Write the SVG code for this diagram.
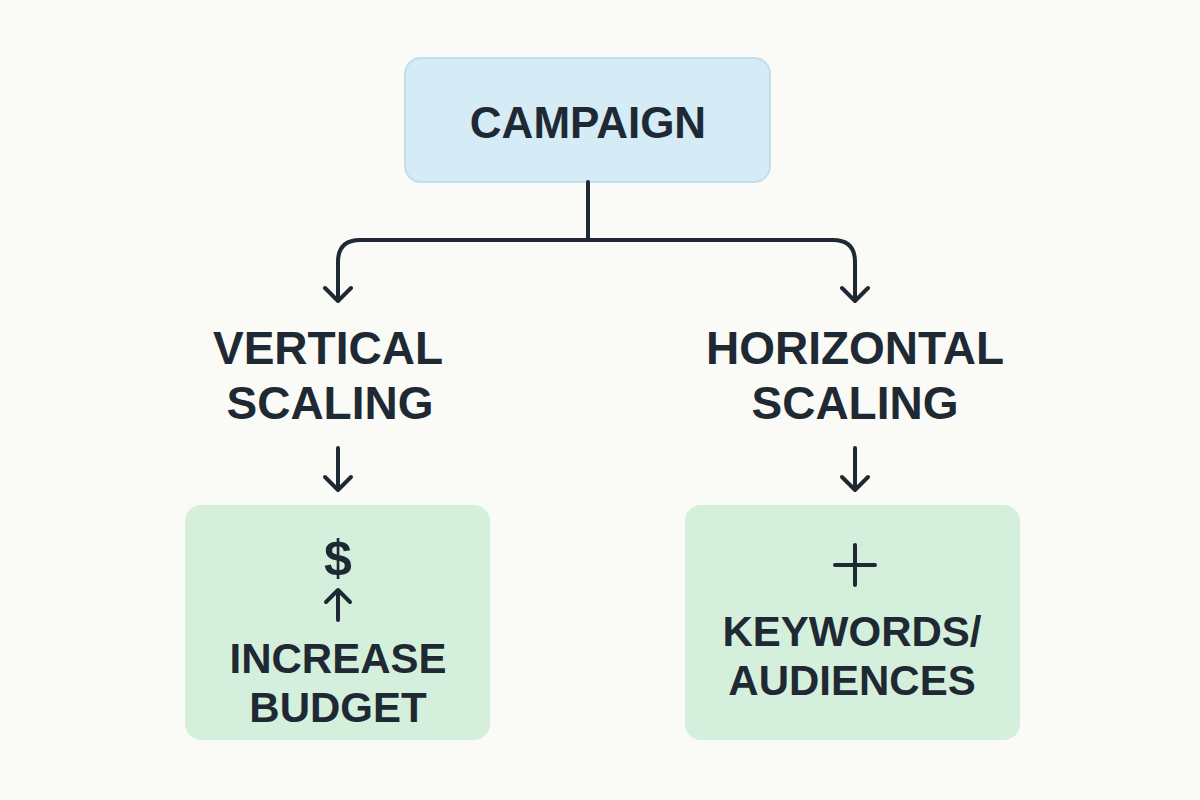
<svg xmlns="http://www.w3.org/2000/svg" width="1200" height="800" viewBox="0 0 1200 800">
<defs>
<style>
.t{font-family:"Liberation Sans",Arial,sans-serif;font-weight:bold;fill:#1f2933;text-anchor:middle}
.c{fill:none;stroke:#1f2933;stroke-width:4;stroke-linecap:round;stroke-linejoin:round}
</style>
</defs>
<rect width="1200" height="800" fill="#fafaf6"/>
<g id="campaign">
<rect x="405" y="58" width="365" height="124" rx="16" fill="#d5ebf5" stroke="#c2dfec" stroke-width="2"/>
<text class="t" x="588" y="138" font-size="44">CAMPAIGN</text>
</g>
<g id="connectors">
<path class="c" d="M588 182 V240 M338 300 V262 Q338 240 360 240 H833 Q855 240 855 262 V300"/>
<path class="c" d="M325 288 L338 301 L351 288 M842 288 L855 301 L868 288"/>
<path class="c" d="M338 448 V490 M325 477 L338 490 L351 477"/>
<path class="c" d="M855 448 V490 M842 477 L855 490 L868 477"/>
</g>
<g id="vertical">
<text class="t" x="328" y="364" font-size="46">VERTICAL</text>
<text class="t" x="330" y="419" font-size="46">SCALING</text>
</g>
<g id="horizontal">
<text class="t" x="855" y="364" font-size="46">HORIZONTAL</text>
<text class="t" x="855" y="419" font-size="46">SCALING</text>
</g>
<g id="budget">
<rect x="185" y="505" width="305" height="235" rx="16" fill="#d4f0dc"/>
<text class="t" x="338" y="575" font-size="50">$</text>
<path class="c" d="M338 620 V590 M326 602 L338 590 L350 602"/>
<text class="t" x="338" y="673" font-size="42">INCREASE</text>
<text class="t" x="338" y="722" font-size="42">BUDGET</text>
</g>
<g id="keywords">
<rect x="685" y="505" width="335" height="235" rx="16" fill="#d4f0dc"/>
<path class="c" d="M855 545 V585 M835 565 H875"/>
<text class="t" x="852" y="646" font-size="42">KEYWORDS/</text>
<text class="t" x="852" y="695" font-size="42">AUDIENCES</text>
</g>
</svg>
